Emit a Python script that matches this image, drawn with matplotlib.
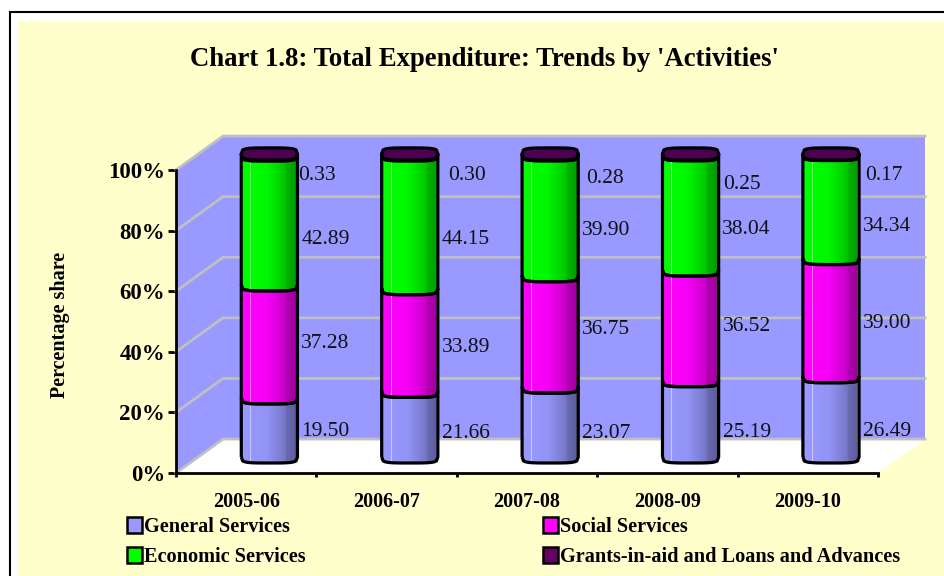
import numpy as np
import matplotlib
matplotlib.use("Agg")
import matplotlib.pyplot as plt
from matplotlib.lines import Line2D
from matplotlib.patches import Patch, PathPatch, Polygon, Rectangle
from matplotlib.path import Path

plt.rcParams['font.family'] = ['Liberation Serif', 'DejaVu Serif']

years = ['2005-06', '2006-07', '2007-08', '2008-09', '2009-10']
general = [19.50, 21.66, 23.07, 25.19, 26.49]
social = [37.28, 33.89, 36.75, 36.52, 39.00]
economic = [42.89, 44.15, 39.90, 38.04, 34.34]
grants = [0.33, 0.30, 0.28, 0.25, 0.17]
series_names = ['General Services', 'Social Services', 'Economic Services',
                'Grants-in-aid and Loans and Advances']
y_ticks = [0, 20, 40, 60, 80, 100]

# label placement in pixels, relative to the middle of each segment
nudge_y = [[2, -3, -5, -8, -9],
           [4, -1, 8, 5, 0],
           [-14, -12, -9, -11, -14],
           [-15, -15, -18, -24, -15]]
nudge_x_top = [48, 57, 55, 51, 53]

# colours: bright side, dark side
bar_colors = [((0x99, 0x99, 0xFF), (0x5A, 0x5A, 0x99)),
              ((0xFF, 0x00, 0xFF), (0x99, 0x00, 0x99)),
              ((0x00, 0xFF, 0x00), (0x00, 0x99, 0x00)),
              ((0x66, 0x00, 0x66), (0x40, 0x00, 0x40))]
face_colors = ['#9999FF', '#FF00FF', '#00FF00', '#660066']
WALL = '#9999FF'
GRID = '#C0C0C0'
PANEL = '#FFFFCC'

DEPTH_X, DEPTH_Y = 0.335, 11.2      # back wall offset, categories / percent
BAR_DX, BAR_DY = 0.165, 3.3         # bars stand part way into the floor
BAR_W = 0.2
ARC = 2.0


def arc_y(u):
    return -ARC * (1 - np.abs(u) ** 4) ** 0.25


def gradient(bright, dark):
    t = np.linspace(0, 1, 64)
    shade = np.interp(t, [0, 0.45, 0.78, 0.80, 1], [0, 0.08, 0.55, 0.75, 1])
    bright, dark = np.array(bright), np.array(dark)
    return ((1 - shade)[:, None] * bright + shade[:, None] * dark)[None, :, :] / 255


def draw_segment(ax, cx, low, high, colors):
    u = np.linspace(-1, 1, 41)
    x = cx + BAR_W * u
    yc = BAR_DY + ARC
    xs = np.r_[x, x[::-1], x[0]]
    ys = np.r_[low + yc + arc_y(u), (high + yc + arc_y(u))[::-1], low + yc + arc_y(u)[0]]
    patch = PathPatch(Path(np.c_[xs, ys]), fc='none', ec='black',
                      lw=2.3, zorder=6, clip_on=False, joinstyle='round')
    ax.add_patch(patch)
    im = ax.imshow(gradient(*colors), aspect='auto', zorder=5,
                   extent=(cx - BAR_W, cx + BAR_W, low, high + 10))
    im.set_clip_path(patch)
    # the bars rise above the axes box, so clip to the figure instead
    im.set_clip_box(ax.figure.bbox)
    # thin highlight lines on the cylinder
    for frac in (0.16, 0.97):
        hx = cx - BAR_W + 2 * BAR_W * frac
        hu = (hx - cx) / BAR_W
        ax.plot([hx, hx], [low + yc + arc_y(hu), high + yc + arc_y(hu)], color='white',
                lw=0.7, alpha=0.5, zorder=5.5, clip_on=False)


fig = plt.figure(figsize=(9.44, 5.76), dpi=100, facecolor='white')
fig.add_artist(Rectangle((18 / 944, 0), 926 / 944, 1 - 21 / 576, transform=fig.transFigure,
                         fc=PANEL, ec='none', zorder=-1))
fig.add_artist(Line2D([10 / 944, 10 / 944, 1], [0, 1 - 12 / 576, 1 - 12 / 576], transform=fig.transFigure,
                      color='black', lw=1.5, zorder=-1, solid_joinstyle='miter'))

ax = fig.add_axes([176 / 944, (576 - 473) / 576, 702 / 944, 303 / 576])
ax.patch.set_visible(False)

x0, x1 = -0.5, len(years) - 0.5

# walls and floor
ax.add_patch(Polygon([(x0, 0), (x0, 100), (x0 + DEPTH_X, 100 + DEPTH_Y), (x1 + DEPTH_X, 100 + DEPTH_Y),
                      (x1 + DEPTH_X, DEPTH_Y), (x0 + DEPTH_X, DEPTH_Y)],
                     fc=WALL, ec='none', clip_on=False, zorder=1))
ax.add_patch(Polygon([(x0, 0), (x1, 0), (x1 + DEPTH_X, DEPTH_Y), (x0 + DEPTH_X, DEPTH_Y)],
                     fc='white', ec='none', clip_on=False, zorder=1))
for v in y_ticks:
    ax.plot([x0, x0 + DEPTH_X, x1 + DEPTH_X], [v, v + DEPTH_Y, v + DEPTH_Y], color=GRID, lw=2,
            clip_on=False, zorder=2, solid_joinstyle='miter')

# bars
stacks = [general, social, economic, grants]
for i in range(len(years)):
    cx = i + BAR_DX
    bottom = 0
    for s, values in enumerate(stacks):
        val = values[i]
        draw_segment(ax, cx, bottom, bottom + val, bar_colors[s])
        mid = bottom + val / 2 if s < 3 else 100
        off_x = nudge_x_top[i] if s == 3 else 56
        ax.annotate(f'{val:.2f}', xy=(cx, mid + BAR_DY), xycoords='data',
                    xytext=(off_x, nudge_y[s][i]), textcoords='offset pixels',
                    ha='center', va='center', fontsize=15.5, color='#111111', zorder=7,
                    annotation_clip=False)
        bottom += val
    # top of the cylinder
    u = np.linspace(-1, 1, 41)
    x = cx + BAR_W * u
    yc = 100 + BAR_DY + ARC
    ax.fill(np.r_[x, x[::-1]], np.r_[yc + arc_y(u), (yc - arc_y(u))[::-1]], fc='#4D0050', ec='black',
            lw=2.3, zorder=6.5, clip_on=False)

ax.set_xlim(x0, x1)
ax.set_ylim(0, 100)

for side in ('top', 'right'):
    ax.spines[side].set_visible(False)
for side in ('left', 'bottom'):
    ax.spines[side].set_linewidth(2)
    ax.spines[side].set_zorder(4)

ax.set_yticks(y_ticks)
ax.set_yticklabels([f'{v}%' for v in y_ticks], fontsize=16.5, fontweight='bold')
ax.tick_params(axis='y', length=6, width=2, pad=2)
ax.set_xticks(np.arange(x0, x1 + 1))
ax.set_xticklabels([])
ax.tick_params(axis='x', length=3, width=2)
ax.set_xticks(np.arange(len(years)), minor=True)
ax.set_xticklabels(years, minor=True, fontsize=14.5, fontweight='bold')
ax.tick_params(axis='x', which='minor', length=0, pad=14)

fig.text(484 / 944, 1 - 59 / 576, "Chart 1.8: Total Expenditure: Trends by 'Activities'",
         fontsize=19.3, fontweight='bold', ha='center', va='center')
fig.text(60 / 944, 1 - 325 / 576, 'Percentage share', fontsize=14.5, fontweight='bold',
         rotation=90, ha='center', va='center')

handles = [Patch(fc=c, ec='black', lw=1.8) for c in face_colors]
order = [0, 2, 1, 3]
fig.legend([handles[k] for k in order], [series_names[k] for k in order], ncol=2, frameon=False,
           loc='upper left', bbox_to_anchor=(121 / 944, 1 - 511 / 576),
           prop={'weight': 'bold', 'size': 14.6}, handlelength=0.75, handleheight=0.85,
           handletextpad=0.1, columnspacing=11.7, labelspacing=0.47, borderpad=0.3, borderaxespad=0)

fig.savefig('out.png', dpi=100, facecolor=fig.get_facecolor())
